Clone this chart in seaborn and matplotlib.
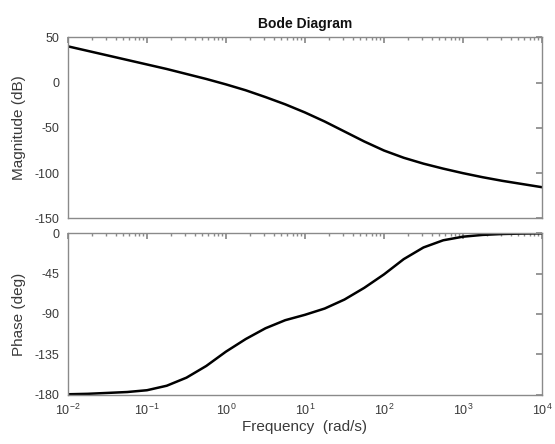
import numpy as np
import pandas as pd
import matplotlib
matplotlib.use("Agg")
import matplotlib.pyplot as plt
import seaborn as sns
from matplotlib.ticker import LogLocator, FixedLocator, NullFormatter

# ---- data ----
freq_exp = [-2, -1.75, -1.5, -1.25, -1, -0.75, -0.5, -0.25, 0, 0.25, 0.5, 0.75,
            1, 1.25, 1.5, 1.75, 2, 2.25, 2.5, 2.75, 3, 3.25, 3.5, 3.75, 4]
magnitude_db = [40, 35, 30, 25, 20, 15, 9.5, 4, -2, -8.5, -16, -24,
                -33, -43, -54, -65, -75, -83, -89.5, -95, -100, -104.5, -108.5, -112, -115.5]
phase_deg = [-179.5, -179, -178, -177, -175, -170, -161, -148, -132, -118, -106, -97,
             -91, -84, -74, -61, -46, -29, -16, -8, -4, -2, -1, -0.5, -0.3]
mag_ticks = [50, 0, -50, -100, -150]
phase_ticks = [0, -45, -90, -135, -180]
freq_ticks = [1e-2, 1e-1, 1e0, 1e1, 1e2, 1e3, 1e4]

df = pd.DataFrame({"freq": 10.0 ** np.array(freq_exp),
                   "mag": magnitude_db, "phase": phase_deg})

sns.set_theme(style="white")
plt.rcParams["font.family"] = ["Liberation Sans", "DejaVu Sans"]
plt.rcParams["mathtext.fontset"] = "custom"
plt.rcParams["mathtext.rm"] = "Liberation Sans"
plt.rcParams["mathtext.it"] = "Liberation Sans"
plt.rcParams["axes.unicode_minus"] = False

fig = plt.figure(figsize=(5.55, 4.44), dpi=100)
left, width = 0.1225, 0.854
ax1 = fig.add_axes([left, 0.508, width, 0.408])
ax2 = fig.add_axes([left, 0.111, width, 0.364])

sns.lineplot(data=df, x="freq", y="mag", ax=ax1, color="black", linewidth=1.8)
sns.lineplot(data=df, x="freq", y="phase", ax=ax2, color="black", linewidth=1.8)

spine_col = "#8a8a8a"
text_col = "#3a3a3a"
for ax in (ax1, ax2):
    ax.set_xscale("log")
    ax.set_xlim(1e-2, 1e4)
    for s in ax.spines.values():
        s.set_color(spine_col)
        s.set_linewidth(1.0)
    ax.tick_params(axis="both", which="both", direction="in", colors=spine_col,
                   labelcolor=text_col, labelsize=9, top=True, right=True, pad=6)
    ax.tick_params(which="major", length=4)
    ax.tick_params(which="minor", length=2)
    ax.xaxis.set_major_locator(FixedLocator(freq_ticks))
    ax.xaxis.set_minor_locator(LogLocator(base=10, subs=np.arange(2, 10) * 0.1, numticks=20))
    ax.xaxis.set_minor_formatter(NullFormatter())
    ax.set_xlabel("")

ax1.set_ylim(-150, 50)
ax1.set_yticks(mag_ticks)
ax1.set_xticklabels([])
ax1.set_ylabel("Magnitude (dB)", fontsize=11, color=text_col)
ax1.set_title("Bode Diagram", fontsize=10, fontweight="bold", color="#111111", pad=7)

ax2.set_ylim(-180, 0)
ax2.set_yticks(phase_ticks)
ax2.set_ylabel("Phase (deg)", fontsize=11, color=text_col)
ax2.set_xlabel("Frequency  (rad/s)", fontsize=11, color=text_col, labelpad=1)

ax1.yaxis.set_label_coords(-0.088, 0.5)
ax2.yaxis.set_label_coords(-0.088, 0.5)

fig.savefig("out.png", dpi=100)
